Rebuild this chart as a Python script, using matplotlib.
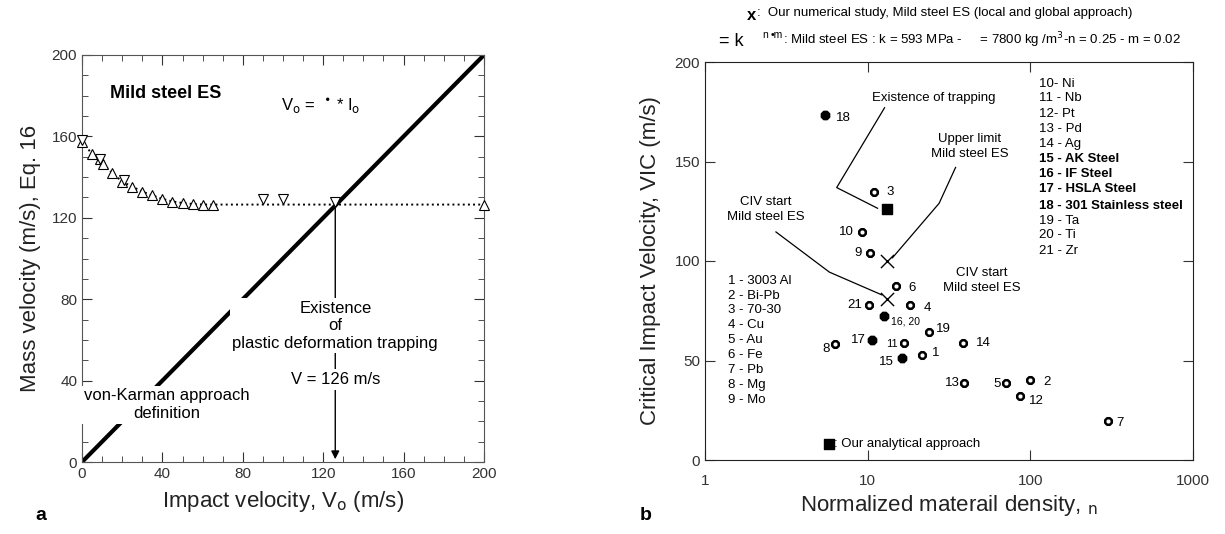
import numpy as np
import matplotlib
matplotlib.use("Agg")
import matplotlib.pyplot as plt
from matplotlib.ticker import MultipleLocator, FixedLocator, NullLocator

plt.rcParams['font.family'] = ['Liberation Sans', 'DejaVu Sans']

# ---- panel a data ----
up_x = [0, 5, 9, 10.5, 15, 20, 25, 30, 35, 40, 45, 50, 55, 60, 65, 200]
up_y = [157.4, 151.4, 149, 146.5, 142, 137.8, 135.3, 132.9, 131, 129.3, 128, 127.3, 126.8, 126.5, 126.5, 126.5]
dn_x = [0, 9, 21, 90, 100, 126]
dn_y = [158, 149, 138.6, 129, 129, 127.7]
vk_x = [0, 200]
vk_y = [0, 200]
v_trap = 126

# ---- panel b data ----
open_ids = ['3', '10', '9', '6', '21', '4', '19', '8', '11', '14', '1', '13', '5', '2', '12', '7']
open_x = [11.0, 9.25, 10.4, 15.0, 10.2, 18.2, 23.8, 6.34, 16.8, 38.6, 21.5, 38.9, 70.7, 100, 86.7, 302]
open_y = [134.5, 114.8, 103.9, 87.6, 78, 78, 64.3, 58.5, 59, 59, 52.9, 38.8, 38.8, 40, 32.3, 19.5]
filled_ids = ['18', '16, 20', '17', '15']
filled_x = [5.44, 12.6, 10.7, 16.2]
filled_y = [173.5, 72.5, 60.2, 51.5]
ana_x, ana_y = [13.2], [126]
num_x, num_y = [13.2, 13.2], [100, 80.8]

list_left = ['1 - 3003 Al', '2 - Bi-Pb', '3 - 70-30', '4 - Cu', '5 - Au', '6 - Fe', '7 - Pb', '8 - Mg', '9 - Mo']
list_left_y = [90, 82.6, 75.3, 67.6, 60.2, 52.7, 45.3, 37.8, 29.9]
list_right = ['10- Ni', '11 - Nb', '12- Pt', '13 - Pd', '14 - Ag', '15 - AK Steel', '16 - IF Steel',
              '17 - HSLA Steel', '18 - 301 Stainless steel', '19 - Ta', '20 - Ti', '21 - Zr']
list_right_y = [188.9, 181.7, 173.8, 166.3, 158.9, 151.2, 143.6, 136.3, 127.6, 120.3, 112.9, 105.2]
bold_items = ['15 - AK Steel', '16 - IF Steel', '17 - HSLA Steel', '18 - 301 Stainless steel']

fig = plt.figure(figsize=(12.25, 5.34), dpi=100)

# ================= panel a =================
ax = fig.add_axes([82/1225, 1-462/534, 402/1225, 407/534])
ax.plot(vk_x, vk_y, color='k', lw=3, zorder=2)
ax.plot(up_x, up_y, color='k', ls=':', lw=1.4, marker='^', mfc='white', mec='k', ms=7, mew=0.8,
        zorder=3, clip_on=False)
ax.plot(dn_x, dn_y, ls='none', marker='v', mfc='white', mec='k', ms=7, mew=0.8, zorder=3, clip_on=False)
ax.annotate('', xy=(v_trap, 0), xytext=(v_trap, 127),
            arrowprops=dict(arrowstyle='-|>', color='k', lw=1, mutation_scale=12), zorder=2)
bb = dict(facecolor='white', edgecolor='none', pad=2)
ax.text(v_trap, 67, 'Existence\nof\nplastic deformation trapping', ha='center', va='center',
        fontsize=12, linespacing=1.2, bbox=bb, zorder=4)
ax.text(v_trap, 40.4, 'V = 126 m/s', ha='center', va='center', fontsize=12, bbox=bb, zorder=4)
ax.text(42, 28.2, 'von-Karman approach\ndefinition', ha='center', va='center', fontsize=12,
        linespacing=1.2, bbox=bb, zorder=4)
ax.text(14, 181, 'Mild steel ES', fontsize=13, fontweight='bold', va='center')
ax.text(99, 175, r'V$_\mathrm{o}$ =  $^{\bullet}$ * I$_\mathrm{o}$', fontsize=12, va='center')

ax.set_xlim(0, 200)
ax.set_ylim(0, 200)
ax.xaxis.set_major_locator(MultipleLocator(40))
ax.xaxis.set_minor_locator(MultipleLocator(10))
ax.yaxis.set_major_locator(MultipleLocator(40))
ax.yaxis.set_minor_locator(MultipleLocator(10))
ax.tick_params(which='both', direction='in', top=True, right=True, labelsize=11, colors='#333333')
ax.tick_params(which='major', length=7)
ax.tick_params(which='minor', length=4)
ax.set_xlabel(r'Impact velocity, V$_\mathrm{o}$ (m/s)', fontsize=16, color='#222222', labelpad=6)
ax.set_ylabel('Mass velocity (m/s), Eq. 16', fontsize=16, color='#222222', labelpad=8)
for s in ax.spines.values():
    s.set_color('#555555')
fig.text(35/1225, 1-515/534, 'a', fontsize=14, fontweight='bold', va='center')

# ================= panel b =================
bx = fig.add_axes([705/1225, 1-460/534, 488/1225, 398/534])
bx.set_xscale('log')
bx.set_xlim(1, 1000)
bx.set_ylim(0, 200)
bx.scatter(open_x, open_y, s=26, facecolor='white', edgecolor='k', linewidth=1.8, marker='8', zorder=3)
bx.scatter(filled_x, filled_y, s=42, color='k', marker='8', zorder=3)
bx.scatter(ana_x, ana_y, s=55, color='k', marker='s', zorder=3)
bx.scatter(num_x, num_y, s=90, color='k', marker='x', linewidth=1, zorder=3)

fs = 9.5
offs = {'3': (9, 0, 'left'), '10': (-6, 0, 'right'), '9': (-6, 0, 'right'), '6': (9, -2, 'left'),
        '21': (-5, 0, 'right'), '4': (10, -2, 'left'), '19': (5, 2, 'left'), '8': (-4, -4, 'right'),
        '11': (-5, -1, 'right'), '14': (9, 0, 'left'), '1': (7, 1, 'left'), '13': (-3, 0, 'right'),
        '5': (-4, -1, 'right'), '2': (9, -1, 'left'), '12': (6, -4, 'left'), '7': (6, -1, 'left')}
for i, xx, yy in zip(open_ids, open_x, open_y):
    dx, dy, ha = offs[i]
    bx.annotate(i, (xx, yy), xytext=(dx, dy), textcoords='offset points', ha=ha, va='center',
                fontsize=8 if i == '11' else fs)
foffs = {'18': (8, -2, 'left', fs), '16, 20': (5, -4, 'left', 7.5), '17': (-5, 0, 'right', fs),
         '15': (-6, -3, 'right', fs)}
for i, xx, yy in zip(filled_ids, filled_x, filled_y):
    dx, dy, ha, f = foffs[i]
    bx.annotate(i, (xx, yy), xytext=(dx, dy), textcoords='offset points', ha=ha, va='center', fontsize=f)

# leader lines
bx.plot([12.7, 6.45, 11.5], [177, 136.9, 126.5], color='k', lw=0.9)
bx.plot([34.7, 27.5, 14.2], [147, 129, 101.6], color='k', lw=0.9)
bx.plot([2.73, 5.82, 12.2], [114.6, 94.4, 83], color='k', lw=0.9)
bx.text(25.4, 182, 'Existence of trapping', ha='center', va='center', fontsize=fs)
bx.text(42.3, 157.5, 'Upper limit\nMild steel ES', ha='center', va='center', fontsize=fs, linespacing=1.3)
bx.text(2.37, 125.8, 'CIV start\nMild steel ES', ha='center', va='center', fontsize=fs, linespacing=1.3)
bx.text(50, 90.2, 'CIV start\nMild steel ES', ha='center', va='center', fontsize=fs, linespacing=1.3)

for t, yy in zip(list_left, list_left_y):
    bx.text(1.38, yy, t, ha='left', va='center', fontsize=fs)
for t, yy in zip(list_right, list_right_y):
    bx.text(113.5, yy, t, ha='left', va='center', fontsize=fs,
            fontweight='bold' if t in bold_items else 'normal')

bx.scatter([5.76], [8], s=50, color='k', marker='s', zorder=3)
bx.text(6.2, 8, ': Our analytical approach', ha='left', va='center', fontsize=fs)

bx.xaxis.set_major_locator(FixedLocator([1, 10, 100, 1000]))
bx.xaxis.set_minor_locator(NullLocator())
bx.set_xticklabels(['1', '10', '100', '1000'])
bx.yaxis.set_major_locator(MultipleLocator(50))
bx.tick_params(which='both', direction='in', top=True, right=True, labelsize=11, colors='#333333', length=7)
bx.tick_params(axis='x', pad=10)
bx.set_ylabel('Critical Impact Velocity, VIC (m/s)', fontsize=16, color='#222222', labelpad=10)
bx.set_xlabel('Normalized materail density, $_{\\mathrm{n}}$', fontsize=16, color='#222222', labelpad=4)
for s in bx.spines.values():
    s.set_color('#222222')
fig.text(640/1225, 1-515/534, 'b', fontsize=14, fontweight='bold', va='center')

# header
fig.text(747/1225, 1-16/534, 'x', fontsize=12, fontweight='bold', va='center')
fig.text(757/1225, 1-13/534, ':  Our numerical study, Mild steel ES (local and global approach)',
         fontsize=9.5, va='center')
fig.text(719/1225, 1-41/534, '= k', fontsize=13, va='center')
fig.text(762/1225, 1-35/534, 'n', fontsize=7.5, va='center')
fig.text(771/1225, 1-35/534, '\u2022m', fontsize=7.5, va='center')
fig.text(783/1225, 1-40/534, ': Mild steel ES : k = 593 MPa -     = 7800 kg /m$^3$-n = 0.25 - m = 0.02',
         fontsize=9.5, va='center')

fig.savefig('out.png', dpi=100)
